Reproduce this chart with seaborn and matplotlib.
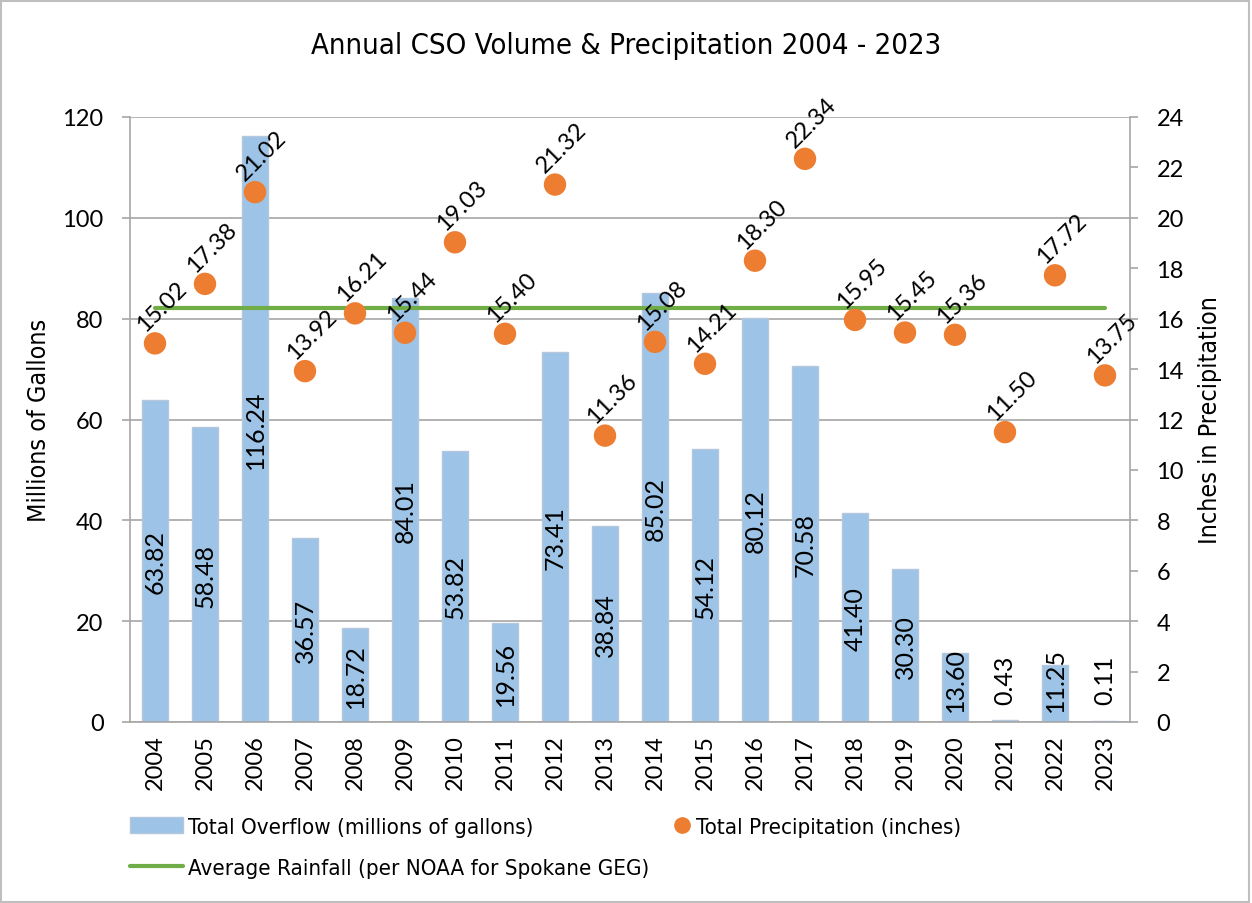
import matplotlib
matplotlib.use("Agg")
import matplotlib.pyplot as plt
import numpy as np
import pandas as pd
import seaborn as sns
from matplotlib.lines import Line2D
from matplotlib.patches import Patch

years = [str(y) for y in range(2004, 2024)]
overflow = [63.82, 58.48, 116.24, 36.57, 18.72, 84.01, 53.82, 19.56, 73.41, 38.84,
            85.02, 54.12, 80.12, 70.58, 41.40, 30.30, 13.60, 0.43, 11.25, 0.11]
precip = [15.02, 17.38, 21.02, 13.92, 16.21, 15.44, 19.03, 15.40, 21.32, 11.36,
          15.08, 14.21, 18.30, 22.34, 15.95, 15.45, 15.36, 11.50, 17.72, 13.75]
avg_rainfall = 16.44

BAR_COLOR = "#9DC3E6"
BAR_EDGE = "#B4C7DC"
DOT_COLOR = "#ED7D31"
LINE_COLOR = "#70AD47"
GRID_COLOR = "#A6A6A6"
NUMS = ["Lato", "DejaVu Sans"]

sns.set_style("white")
plt.rcParams["font.family"] = ["DejaVu Sans"]
plt.rcParams["font.stretch"] = "condensed"
plt.rcParams["text.color"] = "black"
plt.rcParams["axes.labelcolor"] = "black"
plt.rcParams["xtick.color"] = "black"
plt.rcParams["ytick.color"] = "black"

df = pd.DataFrame({"year": years, "overflow": overflow, "precip": precip})
df["pos"] = np.arange(len(df))

fig = plt.figure(figsize=(12.52, 9.04), dpi=100)
ax = fig.add_axes([130 / 1252, 1 - 723 / 904, 1000 / 1252, 605 / 904])

sns.barplot(data=df, x="year", y="overflow", color=BAR_COLOR, width=0.52,
            edgecolor=BAR_EDGE, linewidth=1.0, saturation=1, ax=ax, zorder=2)
ax.set_ylim(0, 120)
ax.set_xlim(-0.5, len(df) - 0.5)
ax.set_yticks(range(0, 121, 20))
ax.yaxis.grid(True, color=GRID_COLOR, linewidth=1.2, zorder=0)
ax.set_axisbelow(True)
ax.set_xlabel("")
ax.set_ylabel("Millions of Gallons", fontsize=18, labelpad=8)
ax.tick_params(axis="y", length=6, width=1.2, color=GRID_COLOR, labelsize=17, pad=13)
ax.tick_params(axis="x", length=0, labelsize=17, rotation=90, pad=9)
for lbl in ax.get_yticklabels() + ax.get_xticklabels():
    lbl.set_family(NUMS)
    lbl.set_stretch("normal")
for side in ["top", "right"]:
    ax.spines[side].set_visible(False)
for side in ["left", "bottom"]:
    ax.spines[side].set_color(GRID_COLOR)
    ax.spines[side].set_linewidth(1.2)

# labels centred in bars (nudged up for the tiny ones)
for i, v in enumerate(overflow):
    ax.text(i, max(v / 2, 8.5), f"{v:.2f}", rotation=90, ha="center", va="center",
            fontsize=18, zorder=5, family=NUMS, stretch="normal")

ax2 = ax.twinx()
ax2.set_ylim(0, 24)
ax2.set_yticks(range(0, 25, 2))
sns.lineplot(x=[0, len(df) - 1], y=[avg_rainfall, avg_rainfall], color=LINE_COLOR,
             linewidth=3, ax=ax2, zorder=3)
sns.scatterplot(data=df, x="pos", y="precip", color=DOT_COLOR, s=260,
                edgecolor="none", ax=ax2, zorder=4)
ax2.set_xlim(-0.5, len(df) - 0.5)
ax2.set_xlabel("")
ax2.set_ylabel("Inches in Precipitation", fontsize=18, labelpad=10)
ax2.tick_params(axis="y", length=6, width=1.2, color=GRID_COLOR, labelsize=17, pad=13)
for lbl in ax2.get_yticklabels():
    lbl.set_family(NUMS)
    lbl.set_stretch("normal")
for side in ["top", "left", "bottom"]:
    ax2.spines[side].set_visible(False)
ax2.spines["right"].set_color(GRID_COLOR)
ax2.spines["right"].set_linewidth(1.2)

for i, p in enumerate(precip):
    ax2.annotate(f"{p:.2f}", (i, p), xytext=(-5, 6), textcoords="offset points",
                 rotation=45, rotation_mode="anchor", ha="left", va="bottom",
                 fontsize=17, family=NUMS, stretch="normal", zorder=6)

fig.suptitle("Annual CSO Volume & Precipitation 2004 - 2023", y=0.965, fontsize=21)

legend_kw = dict(frameon=False, fontsize=16, borderpad=0, borderaxespad=0,
                 handletextpad=0.2)
fig.legend([Patch(facecolor=BAR_COLOR, edgecolor=BAR_EDGE),
            Line2D([0], [0], color=LINE_COLOR, linewidth=3)],
           ["Total Overflow (millions of gallons)",
            "Average Rainfall (per NOAA for Spokane GEG)"],
           loc="upper left", bbox_to_anchor=(130 / 1252, 1 - 818 / 904),
           handlelength=2.4, labelspacing=0.95, **legend_kw)
fig.legend([Line2D([0], [0], marker="o", linestyle="none", color=DOT_COLOR, markersize=11)],
           ["Total Precipitation (inches)"],
           loc="upper left", bbox_to_anchor=(672 / 1252, 1 - 818 / 904),
           handlelength=0.9, **legend_kw)

fig.patches.append(plt.Rectangle((0.001, 0.001), 0.997, 0.997, transform=fig.transFigure,
                                 fill=False, edgecolor="#BFBFBF", linewidth=1.5))

fig.savefig("out.png", dpi=100)
